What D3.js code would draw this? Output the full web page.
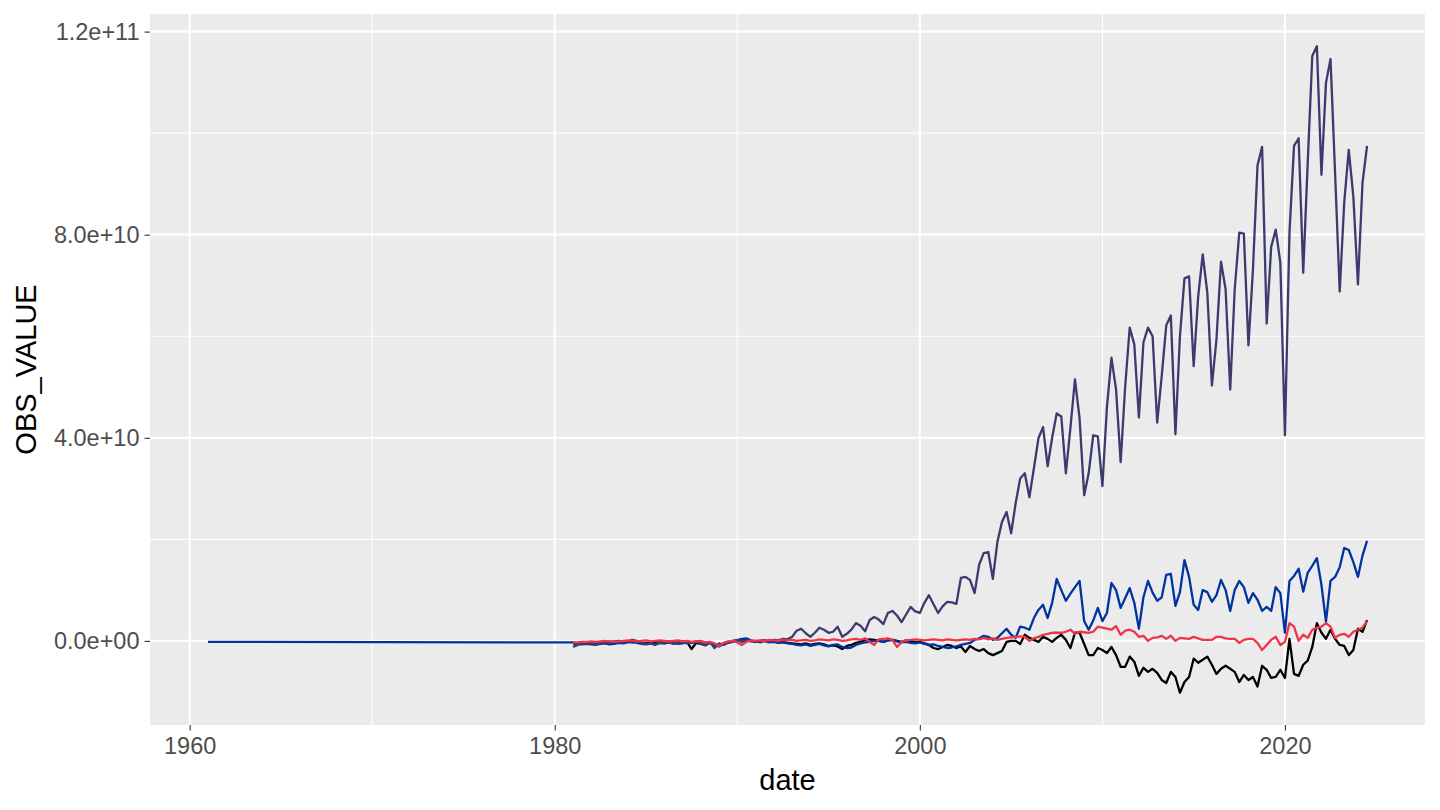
<!DOCTYPE html>
<html>
<head>
<meta charset="utf-8">
<script src="https://cdn.jsdelivr.net/npm/d3@7"></script>
<style>
  body { margin: 0; background: #fff; }
  text { font-family: "Liberation Sans", Arial, sans-serif; }
</style>
</head>
<body>
<div id="chart"></div>
<script>
// values are in billions (1e9)
var unit = 1e9;
var firstYear = 1981; // quarterly series start, 1981 Q1

var blueEarlyYears = [1961];
var blueEarlyValues = [-0.2];

var purpleValues = [
  -1.2, -0.8, -0.6, -0.5, -0.4, -0.6, -0.5, -0.3, -0.2, -0.1,
  0.0, -0.3, -0.1, 0.2, 0.0, -0.4, -0.6, -0.5, -0.8, -0.4,
  -0.5, -0.3, -0.6, -0.4, -0.2, -0.5, -0.3, -0.1, -0.4, -0.9,
  -0.2, -1.4, -0.5, -0.8, -0.3, 0.0, 0.2, -0.2, 0.1, -0.1,
  0.0, -0.3, 0.0, -0.2, 0.2, 0.1, 0.4, 0.3, 0.8, 2.0,
  2.4, 1.5, 0.8, 1.6, 2.6, 2.2, 1.6, 1.8, 2.8, 0.8,
  1.4, 2.2, 3.5, 3.0, 1.9, 4.1, 4.7, 4.2, 3.3, 5.5,
  5.9, 5.0, 3.7, 5.2, 6.7, 5.8, 5.5, 7.5, 9.0, 7.2,
  5.5, 6.8, 7.7, 7.6, 7.3, 12.4, 12.6, 12.0, 9.4, 15.0,
  17.3, 17.5, 12.2, 19.5, 23.4, 25.4, 21.2, 27.1, 32.0, 33.0,
  28.3, 34.0, 39.9, 42.1, 34.4, 40.0, 44.8, 44.2, 33.0, 42.0,
  51.5, 43.8, 28.7, 33.0, 40.5, 40.3, 30.5, 46.0, 55.8, 49.5,
  35.2, 50.0, 61.7, 58.4, 44.0, 58.8, 61.7, 60.0, 43.0, 52.1,
  62.1, 64.1, 40.7, 60.0, 71.4, 71.8, 54.1, 67.8, 76.1, 68.6,
  50.3, 59.4, 74.7, 69.2, 49.5, 69.2, 80.4, 80.2, 58.2, 73.1,
  93.6, 97.3, 62.5, 77.6, 81.0, 74.5, 40.5, 80.4, 97.5, 99.0,
  72.5, 94.2, 115.2, 117.1, 91.8, 109.9, 114.6, 92.0, 68.8, 86.3,
  96.7, 87.5, 70.2, 90.2, 97.5
];

var blueValues = [
  -0.3, -0.5, -0.7, -0.6, -0.7, -0.8, -0.6, -0.5, -0.7, -0.6,
  -0.4, -0.5, -0.3, -0.2, -0.4, -0.6, -0.7, -0.5, -0.6, -0.4,
  -0.5, -0.3, -0.4, -0.6, -0.5, -0.3, -0.4, -0.2, -0.6, -0.8,
  -0.4, -0.9, -1.1, -0.6, -0.4, -0.2, 0.1, 0.4, 0.5, 0.1,
  -0.2, -0.1, 0.0, -0.3, -0.2, -0.4, -0.3, -0.5, -0.6, -0.8,
  -0.9, -0.7, -1.0, -0.8, -0.6, -0.9, -1.1, -0.8, -0.7, -1.2,
  -1.4, -1.3, -0.8, -0.5, -0.3, -0.2, 0.0, 0.1, -0.2, 0.1,
  0.2, -0.1, -0.3, -0.2, -0.4, -0.5, -0.3, -0.6, -0.8, -0.7,
  -1.0, -1.2, -1.4, -1.3, -1.1, -0.8, -0.6, -0.4, 0.2, 0.5,
  1.0, 0.8, 0.2, 0.6, 1.5, 2.4, 1.2, 0.6, 2.8, 2.6,
  2.2, 4.5, 6.1, 7.1, 4.5, 7.5, 12.2, 10.0, 7.9, 9.3,
  10.6, 11.8, 3.9, 2.2, 4.0, 6.5, 3.9, 5.5, 11.4, 10.0,
  6.5, 8.4, 10.4, 7.5, 2.4, 8.6, 11.8, 9.5, 7.9, 8.6,
  13.0, 13.2, 6.9, 9.6, 15.9, 12.6, 7.1, 6.1, 10.0, 9.6,
  7.7, 9.0, 12.0, 10.0, 5.9, 10.0, 11.8, 10.6, 7.5, 9.4,
  8.1, 5.9, 6.7, 5.9, 10.6, 9.4, 1.6, 11.8, 12.8, 14.2,
  9.7, 13.4, 14.8, 16.3, 11.0, 3.8, 11.8, 12.6, 14.5, 18.3,
  17.9, 15.5, 12.6, 16.8, 19.7
];

var blackValues = [
  -0.6, -0.5, -0.4, -0.5, -0.3, -0.4, -0.5, -0.3, -0.2, -0.4,
  -0.3, -0.2, -0.1, -0.3, -0.2, -0.4, -0.5, -0.3, -0.4, -0.2,
  -0.3, -0.1, -0.4, -0.3, -0.1, -0.2, -1.6, -0.4, -0.6, -0.8,
  -0.3, -0.9, -1.0, -0.5, -0.3, -0.1, 0.1, 0.3, 0.2, 0.0,
  -0.2, 0.0, 0.1, -0.2, -0.1, -0.3, -0.2, -0.4, -0.5, -0.6,
  -0.7, -0.5, -0.8, -0.6, -0.5, -0.7, -1.0, -0.9, -1.1, -1.6,
  -1.0, -0.8, -0.4, -0.2, 0.2, 0.3, 0.2, 0.0, -0.2, 0.1,
  0.2, 0.0, -0.2, 0.1, 0.0, -0.3, -0.2, -0.5, -0.8, -1.4,
  -1.6, -1.2, -0.8, -1.0, -1.4, -1.1, -2.2, -1.0, -1.6, -2.0,
  -1.6, -2.4, -2.8, -2.4, -2.0, -0.2, 0.0, 0.0, -0.6, 1.2,
  0.6, 0.2, -0.2, 0.8, 0.4, -0.2, 0.6, 1.2, 0.2, -1.4,
  1.6, 1.6, -0.6, -2.8, -2.8, -1.4, -1.8, -2.4, -1.2, -2.8,
  -5.1, -5.1, -3.1, -4.1, -6.9, -5.3, -6.1, -5.5, -6.3, -7.7,
  -8.3, -6.1, -7.1, -10.2, -8.1, -7.1, -3.5, -4.3, -3.7, -3.1,
  -4.7, -6.5, -5.5, -4.9, -5.5, -6.1, -8.1, -6.7, -7.7, -7.1,
  -9.0, -4.9, -5.7, -7.3, -7.1, -5.7, -7.3, 0.4, -6.5, -6.9,
  -4.7, -3.9, -1.2, 3.5, 1.6, 0.4, 2.2, 0.4, -0.8, -1.0,
  -2.8, -1.8, 2.4, 1.8, 4.1
];

var redValues = [
  -0.4, -0.3, -0.2, -0.2, -0.1, -0.2, -0.1, 0.0, -0.1, -0.2,
  -0.1, 0.0, 0.1, 0.0, -0.1, 0.0, 0.1, -0.1, 0.0, 0.1,
  0.0, -0.1, 0.0, 0.1, -0.1, 0.0, -0.2, -0.1, 0.0, -0.3,
  -0.2, -0.5, -1.0, -0.4, -0.1, 0.0, -0.3, -0.8, -0.2, 0.1,
  0.0, 0.1, 0.0, 0.2, 0.1, 0.0, 0.2, 0.1, 0.2, 0.0,
  0.1, 0.2, 0.0, 0.1, 0.3, 0.2, 0.1, 0.3, 0.2, 0.0,
  0.1, 0.3, 0.4, 0.2, 0.5, -0.2, -0.8, 0.3, 0.4, 0.5,
  0.2, -1.2, -0.2, 0.1, 0.2, 0.3, 0.2, 0.1, 0.2, 0.3,
  0.2, 0.1, 0.3, 0.2, 0.1, 0.2, 0.3, 0.2, 0.4, 0.3,
  0.6, 0.3, 0.5, 0.2, 0.4, 0.6, 0.7, 0.8, 0.9, 0.8,
  0.0, 0.5, 0.8, 1.2, 1.4, 1.6, 1.6, 1.6, 1.8, 2.2,
  1.4, 1.8, 1.7, 1.6, 1.8, 2.8, 2.6, 2.4, 2.2, 2.9,
  1.2, 2.0, 2.2, 1.8, 0.8, 1.0, 0.0, 0.6, 0.7, 1.0,
  0.4, 1.0, 0.0, 0.6, 0.5, 0.4, 0.8, 0.5, 0.2, 0.2,
  0.2, 0.8, 0.8, 0.5, 0.4, 0.4, -0.4, 0.2, 0.4, 0.4,
  -0.4, -1.8, -0.8, 0.2, 0.8, -0.8, -0.2, 3.5, 2.8, 0.0,
  1.2, 0.6, 2.2, 2.6, 2.8, 3.5, 2.8, 0.6, 1.2, 1.4,
  0.8, 1.8, 2.2, 2.6, 3.9
];

var seriesNames = ['black', 'blue', 'purple', 'red'];
var seriesColors = ['#000000', '#0033a0', '#3b3b70', '#ef3448'];

var xMajorYears = [1960, 1980, 2000, 2020];
var xMinorYears = [1970, 1990, 2010];
var yMajorTicks = [0, 4e10, 8e10, 1.2e11];
var yMinorTicks = [2e10, 6e10, 1e11];
var yTickLabels = ['0.0e+00', '4.0e+10', '8.0e+10', '1.2e+11'];

var quarterDate = function(i){
  return new Date(Date.UTC(firstYear + Math.floor(i/4), (i%4)*3, 1));
}

var toPoints = function(values){
  return values.map(function(v, i){ return {date: quarterDate(i), value: v*unit}; });
}

var bluePoints = blueEarlyYears.map(function(yr, i){
  return {date: new Date(Date.UTC(yr, 0, 1)), value: blueEarlyValues[i]*unit};
}).concat(toPoints(blueValues));

var series = [
  toPoints(blackValues),
  bluePoints,
  toPoints(purpleValues),
  toPoints(redValues)
];

var width = 1440, height = 810;
var panelLeft = 150, panelRight = 1425, panelTop = 14, panelBottom = 725;

var all = d3.merge(series);
var xExt = d3.extent(all, function(d){ return +d.date; });
var yExt = d3.extent(all, function(d){ return d.value; });
var xPad = (xExt[1]-xExt[0])*0.05;
var yPad = (yExt[1]-yExt[0])*0.05;

var x = d3.scaleUtc()
  .domain([new Date(xExt[0]-xPad), new Date(xExt[1]+xPad)])
  .range([panelLeft, panelRight]);
var y = d3.scaleLinear()
  .domain([yExt[0]-yPad, yExt[1]+yPad])
  .range([panelBottom, panelTop]);

var yearDate = function(yr){ return new Date(Date.UTC(yr, 0, 1)); }

var svg = d3.select('#chart').append('svg')
  .attr('width', width)
  .attr('height', height);

svg.append('rect')
  .attr('width', width).attr('height', height)
  .attr('fill', '#ffffff');

svg.append('rect')
  .attr('x', panelLeft).attr('y', panelTop)
  .attr('width', panelRight-panelLeft).attr('height', panelBottom-panelTop)
  .attr('fill', '#ebebeb');

// grid
svg.selectAll('.yminor').data(yMinorTicks).enter().append('line')
  .attr('x1', panelLeft).attr('x2', panelRight)
  .attr('y1', function(d){ return y(d); }).attr('y2', function(d){ return y(d); })
  .attr('stroke', '#ffffff').attr('stroke-width', 1.1);
svg.selectAll('.xminor').data(xMinorYears).enter().append('line')
  .attr('y1', panelTop).attr('y2', panelBottom)
  .attr('x1', function(d){ return x(yearDate(d)); }).attr('x2', function(d){ return x(yearDate(d)); })
  .attr('stroke', '#ffffff').attr('stroke-width', 1.1);
svg.selectAll('.ymajor').data(yMajorTicks).enter().append('line')
  .attr('x1', panelLeft).attr('x2', panelRight)
  .attr('y1', function(d){ return y(d); }).attr('y2', function(d){ return y(d); })
  .attr('stroke', '#ffffff').attr('stroke-width', 2.2);
svg.selectAll('.xmajor').data(xMajorYears).enter().append('line')
  .attr('y1', panelTop).attr('y2', panelBottom)
  .attr('x1', function(d){ return x(yearDate(d)); }).attr('x2', function(d){ return x(yearDate(d)); })
  .attr('stroke', '#ffffff').attr('stroke-width', 2.2);

// lines
var line = d3.line()
  .x(function(d){ return x(d.date); })
  .y(function(d){ return y(d.value); });

svg.selectAll('.series').data(series).enter().append('path')
  .attr('d', line)
  .attr('fill', 'none')
  .attr('stroke', function(d, i){ return seriesColors[i]; })
  .attr('stroke-width', 2.3)
  .attr('stroke-linejoin', 'round')
  .attr('stroke-linecap', 'butt');

// axes
var yAxis = d3.axisLeft(y)
  .tickValues(yMajorTicks)
  .tickFormat(function(d, i){ return yTickLabels[i]; })
  .tickSizeInner(5.5).tickSizeOuter(0).tickPadding(5);
var gy = svg.append('g').attr('transform', 'translate(' + panelLeft + ',0)').call(yAxis);

var xAxis = d3.axisBottom(x)
  .tickValues(xMajorYears.map(yearDate))
  .tickFormat(function(d){ return d.getUTCFullYear(); })
  .tickSizeInner(5.5).tickSizeOuter(0).tickPadding(7);
var gx = svg.append('g').attr('transform', 'translate(0,' + panelBottom + ')').call(xAxis);

[gx, gy].forEach(function(g){
  g.select('.domain').remove();
  g.selectAll('.tick line').attr('stroke', '#333333').attr('stroke-width', 1.1);
  g.selectAll('.tick text')
    .attr('fill', '#4d4d4d')
    .style('font-size', '23.5px')
    .style('font-family', '"Liberation Sans", Arial, sans-serif');
});

svg.append('text')
  .attr('x', (panelLeft+panelRight)/2).attr('y', 790)
  .attr('text-anchor', 'middle')
  .style('font-size', '29px')
  .attr('fill', '#000000')
  .text('date');

svg.append('text')
  .attr('transform', 'translate(36,' + ((panelTop+panelBottom)/2) + ') rotate(-90)')
  .attr('text-anchor', 'middle')
  .style('font-size', '29px')
  .attr('fill', '#000000')
  .text('OBS_VALUE');
</script>
</body>
</html>
